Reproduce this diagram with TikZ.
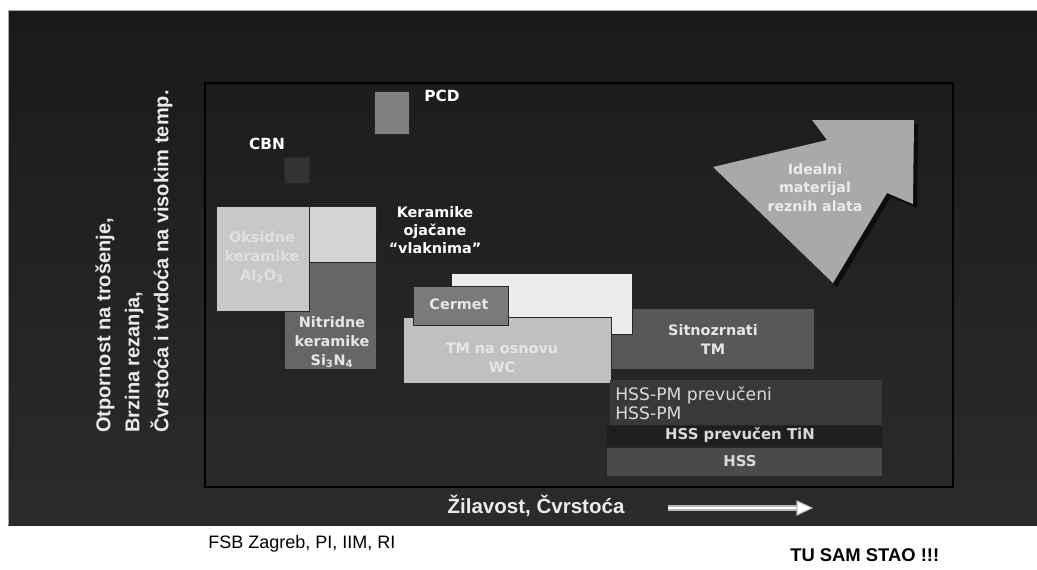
\documentclass[tikz,border=0pt]{standalone}
\usepackage{fontspec}
\setmainfont{DejaVu Sans}
\newfontfamily\arialfont{Liberation Sans}
\usetikzlibrary{fit,arrows.meta}
\definecolor{bgtop}{HTML}{1A1A1A}
\definecolor{bgbot}{HTML}{2B2B2B}
\definecolor{txtlight}{HTML}{E6E6E6}
\definecolor{oksfill}{HTML}{C8C8C8}
\definecolor{vlakfill}{HTML}{D4D4D4}
\definecolor{nitfill}{HTML}{666666}
\definecolor{pcdfill}{HTML}{808080}
\definecolor{cbnfill}{HTML}{333333}
\definecolor{whitebox}{HTML}{ECECEC}
\definecolor{cermfill}{HTML}{7A7A7A}
\definecolor{tmfill}{HTML}{C0C0C0}
\definecolor{sitfill}{HTML}{585858}
\definecolor{pmfill}{HTML}{393939}
\definecolor{tinfill}{HTML}{1E1E1E}
\definecolor{hssfill}{HTML}{4A4A4A}
\definecolor{arrfill}{HTML}{A9A9A9}
\begin{document}
\begin{tikzpicture}[x=0.75pt,y=-0.75pt,
  box/.style={draw=black!85, line width=0.6pt, inner sep=0pt},
  lbl/.style={font=\bfseries\fontsize{10.8}{14.25}\selectfont, text=txtlight, align=center, inner sep=0pt},
  axis/.style={font=\arialfont\bfseries\fontsize{15}{21.75}\selectfont, text=white!92!black, inner sep=0pt}]
\useasboundingbox (0,0) rectangle (1037,569);
\fill[white] (0,0) rectangle (1037,569);
\shade[top color=bgtop,bottom color=bgbot] (8,10) rectangle (1037,525);
\draw[gray!70, line width=0.6pt] (1037,10) -- (8,10) -- (8,525);
\draw[black, line width=1.1pt] (205,83) rectangle (953,487);
% PCD, CBN
\node[box, fill=pcdfill, fit={(374,91) (409,134)}] (pcd) {};
\node[lbl, text=white, font=\bfseries\fontsize{11.5}{14}\selectfont] (pcdl) at (442,96) {PCD};
\node[box, fill=cbnfill, fit={(284,157) (309,183)}] (cbn) {};
\node[lbl, text=white, font=\bfseries\fontsize{11.5}{14}\selectfont] (cbnl) at (267,144) {CBN};
% ceramics
\node[box, fill=vlakfill, fit={(309,206) (376,262)}] (vlak) {};
\node[box, fill=nitfill, fit={(284,262) (376,369)}] (nit) {};
\node[box, fill=oksfill, fit={(216,206) (309,311)}] (oks) {};
\node[lbl, text=white!88!black] (oksl) at (262,257) {Oksidne\\keramike\\Al\textsubscript{2}O\textsubscript{3}};
\node[lbl] (nitl) at (332,342) {Nitridne\\keramike\\Si\textsubscript{3}N\textsubscript{4}};
\node[lbl, text=white, font=\bfseries\fontsize{10.8}{13.5}\selectfont] (vlakl) at (435,230) {Keramike\\ojačane\\“vlaknima”};
% carbides
\node[box, fill=sitfill, fit={(595,308) (814,369)}] (sit) {};
\node[box, fill=whitebox, fit={(451,273) (632,334)}] (wbox) {};
\node[box, fill=tmfill, fit={(403,317) (611,383)}] (tm) {};
\node[box, fill=cermfill, fit={(413,286) (508,325)}] (cerm) {};
\node[lbl] (cerml) at (459,304) {Cermet};
\node[lbl] (tml) at (502,357.5) {TM na osnovu\\WC};
\node[lbl] (sitl) at (713,339.5) {Sitnozrnati\\TM};
% HSS
\node[box, draw=none, fill=pmfill, fit={(610,380) (882,425)}] (pm) {};
\node[lbl, anchor=west, align=left, font=\fontsize{12.9}{14.25}\selectfont, text=white!85!black] (pml) at (615,403.5) {HSS-PM prevučeni\\HSS-PM};
\node[box, fill=tinfill, fit={(606,425) (882,446)}] (tin) {};
\node[lbl, text=white!85!black, font=\bfseries\fontsize{11.2}{14}\selectfont] (tinl) at (740,435.5) {HSS prevučen TiN};
\node[box, fill=hssfill, fit={(606,447) (882,476)}] (hss) {};
\node[lbl, text=white!85!black, font=\bfseries\fontsize{11.2}{14}\selectfont] (hssl) at (740,461.5) {HSS};
% ideal arrow
\fill[black, opacity=0.6] (717,171) -- (831,144) -- (816,124) -- (918,124) -- (917,208) -- (891,197) -- (837,287) -- cycle;
\fill[arrfill] (713,167) -- (827,140) -- (812,120) -- (914,120) -- (913,204) -- (887,193) -- (833,283) -- cycle;
\node[lbl, text=white!92!black, font=\bfseries\fontsize{10.6}{14}\selectfont] (ideal) at (815,187.5) {Idealni\\materijal\\reznih alata};
% axes labels
\node[axis, rotate=90, anchor=west, align=left] (ylab) at (134,433) {Otpornost na trošenje,\\Brzina rezanja,\\Čvrstoća i tvrdoća na visokim temp.};
\node[axis, font=\arialfont\bfseries\fontsize{15.4}{18}\selectfont, anchor=base] (xlab) at (536,513) {Žilavost, Čvrstoća};
\coordinate (a1) at (668,508);
\coordinate (a3) at (798,508);
\draw[line width=4.5pt, gray!55] (a1) -- (a3);
\draw[line width=2pt, white] (a1) -- (a3);
\filldraw[fill=white, draw=gray!55, line width=0.8pt] (797,501) -- (812,508) -- (797,515) -- cycle;
% footer
\node[font=\arialfont\fontsize{13.5}{16}\selectfont, anchor=base west, inner sep=0pt] (fsb) at (208,548) {FSB Zagreb, PI, IIM, RI};
\node[font=\arialfont\bfseries\fontsize{13.8}{16}\selectfont, anchor=base west, inner sep=0pt] (tu) at (790,561) {TU SAM STAO !!!};
\end{tikzpicture}
\end{document}
